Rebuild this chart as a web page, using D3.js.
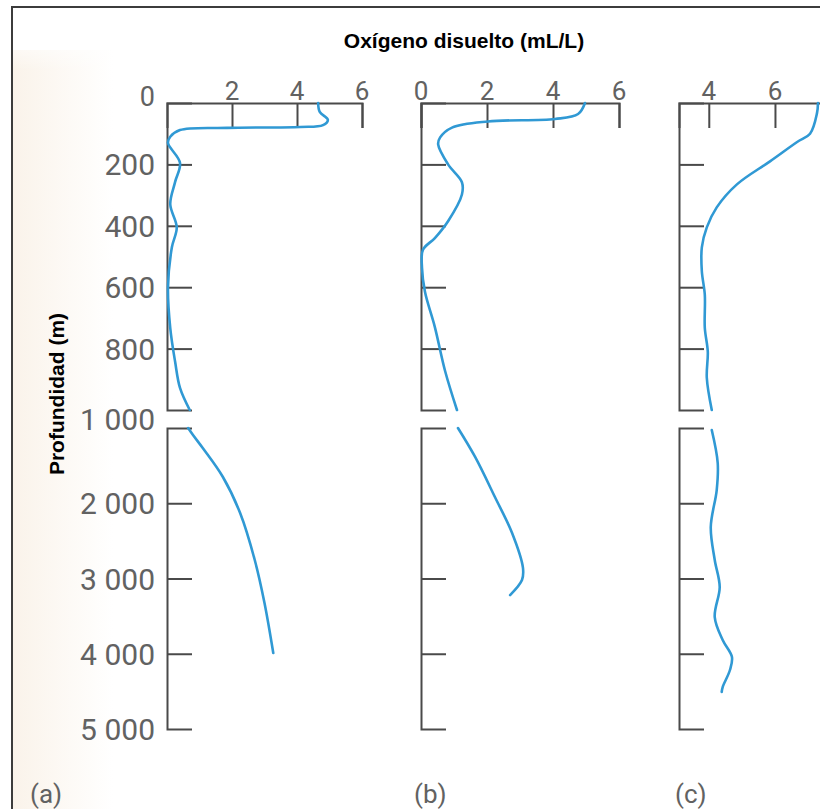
<!doctype html>
<html>
  <head>
    <meta charset="utf-8">
    <title>Oxígeno disuelto - perfiles</title>
    <script src="https://cdn.jsdelivr.net/npm/d3@7"></script>
    <style>
      body { margin: 0; background: #fff; }
      svg { display: block; }
      .num { font-family: Roboto, "Liberation Sans", sans-serif; font-weight: 400; fill: #626262; }
      .ttl { font-family: "Liberation Sans", Arial, sans-serif; font-weight: bold; fill: #000; }
      .axis path, .axis line { stroke: #4a4a4a; stroke-width: 2; fill: none; }
      .profile { fill: none; stroke: #3099d4; stroke-width: 2.6; stroke-linecap: round; stroke-linejoin: round; }
    </style>
  </head>
  <body>
    <svg id="chart" width="820" height="809"></svg>

<script>
// depth axis (m), broken in two parts
var depthTicksUpper = [200, 400, 600, 800];
var depthLabelsUpper = ["0", "200", "400", "600", "800"];
var depthTicksLower = [2000, 3000, 4000];
var depthLabelsLower = ["1 000", "2 000", "3 000", "4 000", "5 000"];

// oxygen ticks per panel (mL/L)
var o2TicksA = [2, 4, 6];
var o2TicksB = [0, 2, 4, 6];
var o2TicksC = [4, 6];

// (a) profile
var aUpperDepth = [0, 29, 55, 72, 78, 81, 88, 110, 130, 195, 257, 330, 405, 470, 600, 733, 843, 928, 1000];
var aUpperO2 = [4.65, 4.7, 4.95, 4.8, 4.1, 1.85, 0.4, 0.1, 0.03, 0.4, 0.25, 0.1, 0.3, 0.15, 0.03, 0.1, 0.25, 0.4, 0.7];
var aLowerDepth = [1000, 1093, 1266, 1651, 2130, 2754, 3326, 3990];
var aLowerO2 = [0.65, 0.8, 1.1, 1.72, 2.25, 2.7, 3.0, 3.27];

// (b) profile
var bUpperDepth = [0, 36, 52, 60, 80, 112, 135, 200, 258, 298, 385, 440, 478, 537, 615, 730, 873, 1000];
var bUpperO2 = [4.97, 4.76, 4.06, 2.03, 0.94, 0.58, 0.52, 0.82, 1.24, 1.24, 0.82, 0.42, 0.06, 0.03, 0.12, 0.42, 0.73, 1.09];
var bLowerDepth = [1000, 1385, 1917, 2395, 2860, 3020, 3220];
var bLowerO2 = [1.12, 1.64, 2.24, 2.76, 3.09, 3.06, 2.7];

// (c) profile
var cUpperDepth = [0, 33, 100, 127, 190, 265, 340, 405, 470, 548, 625, 733, 810, 895, 1000];
var cUpperO2 = [7.3, 7.27, 7.06, 6.67, 5.85, 4.85, 4.24, 3.94, 3.79, 3.79, 3.88, 3.88, 3.97, 3.94, 4.09];
var cLowerDepth = [1027, 1465, 1824, 2316, 2754, 3113, 3512, 3817, 4043, 4216, 4442, 4508];
var cLowerO2 = [4.09, 4.27, 4.24, 4.06, 4.18, 4.33, 4.18, 4.42, 4.7, 4.64, 4.42, 4.39];

var svg = d3.select('#chart');

var yUp = d3.scaleLinear().domain([0, 1000]).range([103, 410]);
var yLo = d3.scaleLinear().domain([1000, 5000]).range([428, 729]);

var panels = [
  { x: d3.scaleLinear().domain([0, 6]).range([167, 362]), ticks: o2TicksA, label: '(a)',
    upper: [aUpperDepth, aUpperO2], lower: [aLowerDepth, aLowerO2] },
  { x: d3.scaleLinear().domain([0, 6]).range([421, 619]), ticks: o2TicksB, label: '(b)',
    upper: [bUpperDepth, bUpperO2], lower: [bLowerDepth, bLowerO2] },
  { x: d3.scaleLinear().domain([3.1, 8.6]).range([679, 861]), ticks: o2TicksC, label: '(c)',
    upper: [cUpperDepth, cUpperO2], lower: [cLowerDepth, cLowerO2] }
];

// scanned paper tint on the left
var defs = svg.append('defs');
var grad = defs.append('linearGradient').attr('id', 'paper').attr('x1', 0).attr('x2', 1).attr('y1', 0).attr('y2', 0);
grad.append('stop').attr('offset', '0%').attr('stop-color', '#faf3ea');
grad.append('stop').attr('offset', '100%').attr('stop-color', '#ffffff');
var gradV = defs.append('linearGradient').attr('id', 'fadeTop').attr('x1', 0).attr('x2', 0).attr('y1', 0).attr('y2', 1);
gradV.append('stop').attr('offset', '0%').attr('stop-color', '#fff').attr('stop-opacity', 0);
gradV.append('stop').attr('offset', '100%').attr('stop-color', '#fff').attr('stop-opacity', 1);
svg.append('rect').attr('x', 13).attr('y', 50).attr('width', 100).attr('height', 759).attr('fill', 'url(#paper)');
svg.append('rect').attr('x', 13).attr('y', 30).attr('width', 100).attr('height', 40).attr('fill', 'url(#fadeTop)').attr('transform', 'rotate(180,63,50)');

// frame
svg.append('path').attr('d', 'M12,809V7H820').attr('fill', 'none').attr('stroke', '#3c3c3c').attr('stroke-width', 2);

panels.forEach(function(p, i) {
  var x0 = p.x.range()[0];
  var g = svg.append('g').attr('class', 'panel');

  // oxygen axis on top, ticks pointing down
  g.append('g').attr('class', 'axis')
    .attr('transform', 'translate(0,' + yUp(0) + ')')
    .call(d3.axisBottom(p.x).tickValues(p.ticks).tickSize(25).tickSizeOuter(25).tickFormat(''));

  // depth axes, ticks pointing right
  g.append('g').attr('class', 'axis')
    .attr('transform', 'translate(' + x0 + ',0)')
    .call(d3.axisRight(yUp).tickValues(depthTicksUpper).tickSize(25).tickSizeOuter(25).tickFormat(''));
  g.append('g').attr('class', 'axis')
    .attr('transform', 'translate(' + x0 + ',0)')
    .call(d3.axisRight(yLo).tickValues(depthTicksLower).tickSize(25).tickSizeOuter(25).tickFormat(''));

  g.selectAll('.axis text').remove();

  // oxygen tick labels
  g.selectAll('.o2lab').data(p.ticks).enter().append('text')
    .attr('class', 'num')
    .attr('x', function(d) { return p.x(d); })
    .attr('y', 100)
    .attr('text-anchor', 'middle')
    .style('font-size', '26px')
    .text(function(d) { return d; });

  var line = d3.line()
    .x(function(d) { return p.x(d[1]); })
    .curve(d3.curveCatmullRom.alpha(0.5));

  g.append('path').attr('class', 'profile')
    .attr('d', line.y(function(d) { return yUp(d[0]); })(d3.zip(p.upper[0], p.upper[1])));
  g.append('path').attr('class', 'profile')
    .attr('d', line.y(function(d) { return yLo(d[0]); })(d3.zip(p.lower[0], p.lower[1])));

  svg.append('text').attr('class', 'num')
    .attr('x', [30, 414, 675][i]).attr('y', 803)
    .style('font-size', '26px')
    .text(p.label);
});

// depth labels (only on panel a)
var upperVals = [0].concat(depthTicksUpper);
svg.selectAll('.dlabU').data(upperVals).enter().append('text')
  .attr('class', 'num')
  .attr('x', 155)
  .attr('y', function(d) { return d === 0 ? yUp(0) + 3 : yUp(d) + 11; })
  .attr('text-anchor', 'end')
  .style('font-size', function(d) { return d === 0 ? '27px' : '30px'; })
  .text(function(d, i) { return depthLabelsUpper[i]; });

var lowerVals = [1000].concat(depthTicksLower, [5000]);
svg.selectAll('.dlabL').data(lowerVals).enter().append('text')
  .attr('class', 'num')
  .attr('x', 155)
  .attr('y', function(d) { return d === 1000 ? (yUp(1000) + yLo(1000)) / 2 + 11 : yLo(d) + 11; })
  .attr('text-anchor', 'end')
  .style('font-size', '30px')
  .text(function(d, i) { return depthLabelsLower[i]; });

// titles
svg.append('text').attr('class', 'ttl')
  .attr('x', 464).attr('y', 48)
  .attr('text-anchor', 'middle')
  .style('font-size', '21px')
  .text('Oxígeno disuelto (mL/L)');

svg.append('text').attr('class', 'ttl')
  .attr('transform', 'translate(64,394) rotate(-90)')
  .attr('text-anchor', 'middle')
  .style('font-size', '21px')
  .text('Profundidad (m)');
</script>
  </body>
</html>
